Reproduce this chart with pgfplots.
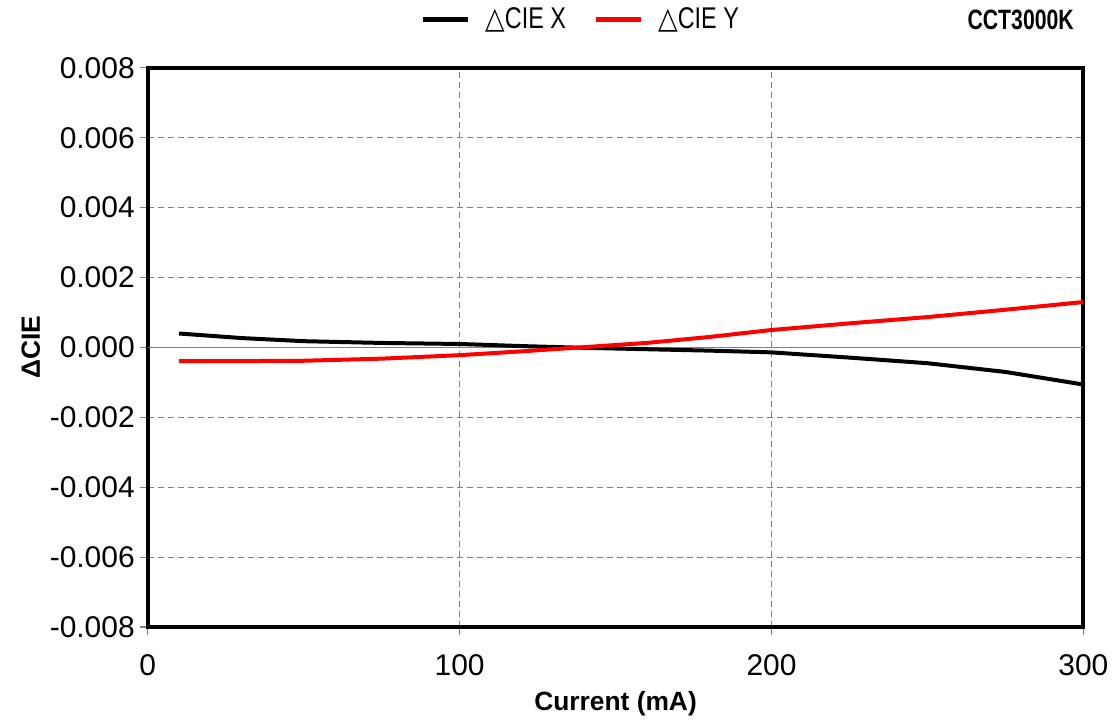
\documentclass[border=0pt]{standalone}
\usepackage{fontspec}
\setmainfont{Liberation Sans}
\newfontfamily\narrow[FakeStretch=0.78]{Liberation Sans}
\newfontfamily\narrowb[FakeStretch=0.76]{Liberation Sans Bold}
\newfontfamily\dejavu[FakeStretch=0.85]{DejaVu Sans}
\usepackage{pgfplots}
\pgfplotsset{compat=1.18}
\begin{document}
\begin{tikzpicture}
\begin{axis}[
  scale only axis,
  width=468.5pt, height=280pt,
  xmin=0, xmax=300, ymin=-0.008, ymax=0.008,
  xtick={0,100,200,300},
  ytick={-0.008,-0.006,-0.004,-0.002,0,0.002,0.004,0.006,0.008},
  scaled y ticks=false,
  /pgf/number format/assume math mode=true,
  yticklabel style={/pgf/number format/fixed, /pgf/number format/fixed zerofill, /pgf/number format/precision=3, xshift=1pt},
  ticklabel style={font=\fontsize{15}{18}\selectfont},
  xticklabel style={yshift=-6pt},
  grid=major,
  major grid style={gray, dash pattern=on 3pt off 2pt, line width=0.4pt},
  axis line style={black, line width=2pt},
  tick style={gray, line width=0.6pt},
  tick align=outside,
  ytick pos=left, xtick pos=bottom,
  major tick length=4pt,
  xlabel={\bfseries Current (mA)},
  ylabel={\bfseries ΔCIE},
  label style={font=\fontsize{13.2}{16}\selectfont},
  xlabel style={yshift=-1pt},
  ylabel style={yshift=-2pt},
  legend columns=2,
  legend style={at={(0.464,1.0857)}, anchor=center, draw=none, fill=none,
    font=\fontsize{15}{17}\selectfont\narrow,
    /tikz/every even column/.append style={column sep=12pt}},
  legend image code/.code={\path[draw=none] (0pt,0pt) -- (29pt,0pt);\draw[#1, line width=2.5pt] (0pt,0pt) -- (22.5pt,0pt);},
  clip=false,
]
\addplot[gray, line width=0.6pt, forget plot] coordinates {(0,0) (300,0)};
\addplot[black, line width=2pt] coordinates {
(10,0.00040) (30,0.00027) (50,0.00018) (75,0.00013) (100,0.00010) (120,0.00004)
(140,-0.00001) (160,-0.00005) (180,-0.00009) (200,-0.00014) (225,-0.00029)
(250,-0.00045) (275,-0.00070) (300,-0.00106)};
\addlegendentry{{\dejavu △}CIE X}
\addplot[red, line width=2pt] coordinates {
(10,-0.00039) (30,-0.00039) (50,-0.00038) (75,-0.00032) (100,-0.00022) (120,-0.00011)
(140,0.00001) (160,0.00013) (180,0.00030) (200,0.00050) (225,0.00069)
(250,0.00087) (275,0.00108) (300,0.00130)};
\addlegendentry{{\dejavu △}CIE Y}
\node[font=\fontsize{14}{16}\selectfont\narrowb] at (axis description cs:0.933,1.0857) {CCT3000K};
\end{axis}
\path[use as bounding box] ([shift={(-74pt,-45pt)}]current axis.south west) rectangle ([shift={(15pt,34pt)}]current axis.north east);
\end{tikzpicture}
\end{document}
